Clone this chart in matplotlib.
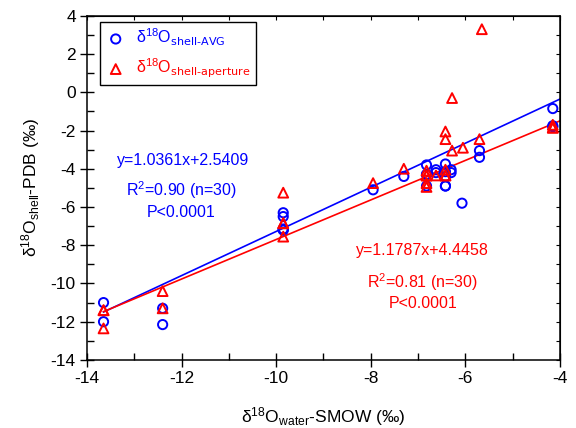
import matplotlib
matplotlib.use("Agg")
import matplotlib.pyplot as plt
import numpy as np

plt.rcParams['font.family'] = ['Liberation Sans', 'DejaVu Sans']
plt.rcParams['mathtext.default'] = 'regular'
plt.rcParams['axes.unicode_minus'] = False

# data
avg_x = [-13.65, -13.65, -12.4, -12.4, -9.85, -9.85, -9.85, -9.85, -7.95, -7.3,
         -6.82, -6.82, -6.82, -6.62, -6.62, -6.42, -6.42, -6.42, -6.42, -6.3,
         -6.3, -6.07, -5.7, -5.7, -4.15, -4.15, -4.15, -6.82, -6.42, -9.85]
avg_y = [-11.0, -12.0, -11.3, -12.15, -6.3, -6.5, -7.15, -7.2, -5.1, -4.4,
         -3.8, -4.3, -4.9, -4.05, -4.2, -3.75, -4.15, -4.4, -4.9, -4.05,
         -4.2, -5.8, -3.05, -3.4, -0.85, -1.75, -1.8, -4.3, -4.9, -7.2]

ap_x = [-13.65, -13.65, -12.4, -12.4, -9.85, -9.85, -9.85, -7.95, -7.3,
        -6.82, -6.82, -6.82, -6.82, -6.62, -6.42, -6.42, -6.42, -6.42, -6.28,
        -6.28, -6.05, -5.65, -5.7, -4.15, -4.15, -6.82, -6.42, -9.85, -13.65, -4.15]
ap_y = [-11.4, -12.35, -10.4, -11.3, -5.25, -6.85, -7.55, -4.75, -4.0,
        -4.1, -4.35, -4.75, -4.95, -4.35, -2.05, -2.45, -4.05, -4.35, -0.3,
        -3.05, -2.9, 3.3, -2.45, -1.7, -1.85, -4.35, -4.35, -6.85, -11.4, -1.85]

# fitted lines as drawn (slope, intercept), x-range
avg_fit = (1.154, 4.26)
ap_fit = (1.034, 2.64)
fit_range = (-13.65, -4.0)

blue = '#0000ff'
red = '#ff0000'

fig = plt.figure(figsize=(5.76, 4.28), dpi=100)
ax = fig.add_axes([0.151, 0.159, 0.821, 0.804])

xl = np.array(fit_range)
ax.plot(xl, avg_fit[0] * xl + avg_fit[1], color=blue, lw=1.2, zorder=2)
ax.plot(xl, ap_fit[0] * xl + ap_fit[1], color=red, lw=1.2, zorder=2)

ax.scatter(avg_x, avg_y, s=44, marker='o', facecolors='none', edgecolors=blue,
           linewidths=1.4, zorder=3,
           label=r'$\delta^{18}O_{\text{shell-AVG}}$')
ax.scatter(ap_x, ap_y, s=50, marker='^', facecolors='none', edgecolors=red,
           linewidths=1.4, zorder=3,
           label=r'$\delta^{18}O_{\text{shell-aperture}}$')

ax.set_xlim(-14, -4)
ax.set_ylim(-14, 4)
ax.set_xticks(np.arange(-14, -3, 2))
ax.set_yticks(np.arange(-14, 5, 2))
ax.set_xticks(np.arange(-13, -4, 2), minor=True)
ax.set_yticks(np.arange(-13, 4, 2), minor=True)
ax.tick_params(which='major', direction='inout', length=10, width=1, labelsize=12.5,
               top=False, right=False, pad=3)
ax.tick_params(which='minor', direction='in', length=5, width=1, top=False, right=False)
for s in ax.spines.values():
    s.set_linewidth(1.1)

secx = ax.secondary_xaxis('top')
secx.set_xticks(np.arange(-14, -3, 1))
secx.tick_params(direction='in', length=3, width=0.8, labeltop=False)
secy = ax.secondary_yaxis('right')
secy.set_yticks(np.arange(-14, 5, 1))
secy.tick_params(direction='in', length=3, width=0.8, labelright=False)

ax.set_xlabel(r'$\delta^{18}O_{water}$-SMOW (‰)', fontsize=12.5, labelpad=14)
ax.set_ylabel(r'$\delta^{18}O_{shell}$-PDB (‰)', fontsize=12.5, labelpad=6)

ax.text(-11.97, -3.55, 'y=1.0361x+2.5409', color=blue, fontsize=11.5, ha='center', va='center')
ax.text(-12.0, -5.1, r'R$^2$=0.90 (n=30)', color=blue, fontsize=11.5, ha='center', va='center')
ax.text(-12.0, -6.3, 'P<0.0001', color=blue, fontsize=11.5, ha='center', va='center')

ax.text(-6.9, -8.3, 'y=1.1787x+4.4458', color=red, fontsize=11.5, ha='center', va='center')
ax.text(-6.9, -9.95, r'R$^2$=0.81 (n=30)', color=red, fontsize=11.5, ha='center', va='center')
ax.text(-6.9, -11.05, 'P<0.0001', color=red, fontsize=11.5, ha='center', va='center')

leg = ax.legend(loc='upper left', bbox_to_anchor=(0.027, 0.983), borderaxespad=0,
                fancybox=False, edgecolor='black', framealpha=1, fontsize=11.5,
                handletextpad=0.6, borderpad=0.3, labelspacing=0.55, handlelength=1.4)
leg.get_frame().set_linewidth(1.0)
for t, c in zip(leg.get_texts(), [blue, red]):
    t.set_color(c)

fig.savefig('out.png', dpi=100)
